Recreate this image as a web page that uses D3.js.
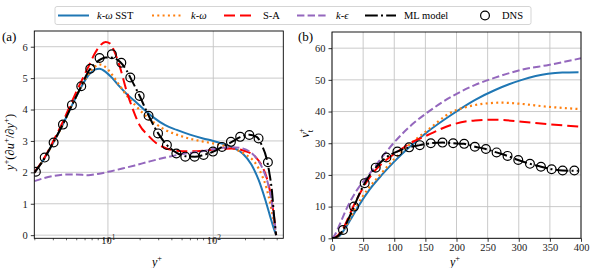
<!DOCTYPE html>
<html>
<head>
<meta charset="utf-8">
<script src="https://cdn.jsdelivr.net/npm/d3@7"></script>
<style>
body { margin: 0; background: #fff; }
svg { display: block; }
</style>
</head>
<body>
<div id="chart"></div>
<script>
// ---- panel (a): y+ (du+/dy+) against y+ (log axis) ----
const sstA = [[2.0,2.0],[2.5,2.45],[3,2.92],[3.7,3.5],[4.5,4.1],[5.5,4.68],[6.5,5.08],[7.5,5.27],[8.3,5.3],[9.5,5.2],[11,5.0],[13,4.72],[15,4.5],[18,4.27],[22,4.0],[27,3.75],[35,3.5],[45,3.35],[60,3.2],[80,3.08],[100,3.0],[125,2.9],[155,2.78],[190,2.6],[230,2.25],[270,1.75],[310,1.15],[345,0.62],[370,0.28],[395,0]];
const kwA = [[2.0,2.0],[2.5,2.45],[3,2.92],[3.7,3.5],[4.5,4.1],[5.5,4.7],[6.5,5.12],[7.5,5.36],[8.5,5.43],[9.5,5.35],[11,5.1],[13,4.75],[15,4.45],[18,4.15],[22,3.85],[27,3.6],[35,3.35],[45,3.2],[60,3.07],[80,2.98],[100,2.92],[125,2.85],[160,2.74],[200,2.58],[250,2.3],[290,1.9],[320,1.5],[350,0.95],[375,0.45],[395,0]];
const saA = [[2.0,2.0],[2.5,2.47],[3,2.97],[3.7,3.58],[4.5,4.22],[5.5,4.85],[6.5,5.35],[7.5,5.78],[8.5,6.05],[9.5,6.15],[10.5,6.1],[11.5,5.85],[13,5.35],[15,4.6],[17.5,3.95],[20,3.5],[24,3.18],[29,2.92],[36,2.76],[45,2.69],[60,2.67],[80,2.69],[110,2.74],[150,2.76],[200,2.68],[250,2.5],[290,2.2],[320,1.85],[350,1.3],[375,0.65],[395,0]];
const keA = [[2.0,1.72],[2.5,1.82],[3,1.88],[4,1.93],[5,1.93],[6.5,1.91],[8,1.95],[10.5,2.03],[14,2.13],[18,2.22],[25,2.35],[35,2.47],[50,2.58],[75,2.66],[110,2.76],[150,2.8],[190,2.76],[230,2.62],[270,2.35],[300,2.05],[330,1.65],[355,1.15],[375,0.6],[395,0]];
const mlA = [[2.0,1.98],[2.5,2.45],[3,2.93],[3.7,3.5],[4.5,4.1],[5.5,4.7],[6.5,5.2],[7.5,5.45],[8.5,5.6],[9.5,5.66],[11,5.65],[13,5.52],[15,5.25],[17,4.9],[20,4.43],[24,3.85],[30,3.24],[36,2.88],[45,2.62],[55,2.51],[67,2.5],[80,2.55],[100,2.66],[120,2.8],[150,2.97],[180,3.12],[220,3.2],[260,3.12],[290,2.85],[320,2.45],[340,2.0],[360,1.42],[378,0.6],[395,0]];
const dnsAx = [2.07,2.51,3.05,3.74,4.55,5.58,6.79,8.33,10.9,13.4,16.3,20.0,24.3,29.9,36.3,44.6,54.2,66.5,80.9,99.3,121,147,180,220,269,330];
const dnsAy = [2.02,2.47,2.95,3.52,4.14,4.74,5.30,5.64,5.76,5.49,5.02,4.43,3.80,3.24,2.87,2.60,2.50,2.50,2.55,2.66,2.81,2.97,3.13,3.19,3.08,2.32];

// ---- panel (b): nu_t+ against y+ ----
const sstB = [[0,0],[10,0.5],[20,2.8],[30,6.0],[42,10],[60,15.3],[80,20],[100,24.2],[124,28.7],[154,33.7],[192,39],[230,43.7],[262,46.8],[305,50],[347,51.9],[370,52.3],[396,52.4]];
const kwB = [[0,0],[10,0.6],[20,3.2],[30,6.6],[39,10],[58,15.6],[77,20],[100,25],[124,29.5],[154,34.2],[192,39.8],[219,41.6],[245,42.5],[272,42.8],[305,42.4],[342,41.6],[396,40.8]];
const saB = [[0,0],[10,1.0],[20,3.9],[34,10],[50,16],[70,21.6],[87,24.7],[106,27.4],[124,29.8],[154,32.6],[192,35.8],[230,37.2],[262,37.4],[305,36.8],[348,36.0],[396,35.3]];
const keB = [[0,0],[5,1.2],[10,3.3],[25,10],[40,15.2],[59,20],[80,25.5],[101,30.5],[128,35.8],[154,39.8],[192,44.7],[230,48.4],[262,50.7],[305,53.2],[348,54.7],[400,56.8]];
const mlB = [[0,0],[5,0.15],[10,0.8],[17.7,2.6],[25,5.5],[35.4,10],[45,14.5],[52.5,17.4],[60,19.8],[70,22.3],[87,25.5],[105,27.4],[124,28.7],[141,29.4],[159,30],[178,30.2],[195,30],[212,29.8],[230,28.9],[247,28.2],[264,27.1],[282,26],[299,24.7],[318,23.5],[336,22.6],[353,21.8],[370,21.4],[395,21.3]];
const dnsBx = [17.7,35.4,52.5,70.2,87.4,105.1,123.9,141,158.7,177.5,194.6,212.3,229.5,247.2,264.4,282,299.2,318,335.7,352.8,370.5,389.3];
const dnsBy = [2.6,10.0,17.4,22.3,25.5,27.4,28.7,29.4,30.0,30.2,30.0,29.8,28.9,28.2,27.1,26.0,24.7,23.5,22.6,21.8,21.4,21.4];

// ticks
const yTicksA = [0,1,2,3,4,5,6];
const xMajorA = [10,100];
const xMinorA = [2,3,4,5,6,7,8,9,20,30,40,50,60,70,80,90,200,300,400];
const xTicksB = [0,50,100,150,200,250,300,350,400];
const yTicksB = [0,10,20,30,40,50,60];

// legend / series styles
const models = [
    { name: [["k","i"],["-"],["ω","i"],[" SST"]], color: "#1f77b4", dash: null, w: 2 },
    { name: [["k","i"],["-"],["ω","i"]], color: "#ff7f0e", dash: "2,3.3", w: 2.2 },
    { name: [["S-A"]], color: "#ff0000", dash: "11,5", w: 2 },
    { name: [["k","i"],["-"],["ϵ","i"]], color: "#9467bd", dash: "7.4,3.2", w: 2 },
    { name: [["ML model"]], color: "#000000", dash: "12.8,3.2,2,3.2", w: 2 }
];
const legendX = [58, 152, 224, 297, 365, 470];

const FONT = "'Liberation Serif', 'DejaVu Serif', serif";
const W = 598, H = 268;
const svg = d3.select("#chart").append("svg")
    .attr("width", W).attr("height", H)
    .attr("font-family", FONT);

// writes text made of parts: [str, "i" | "sup" | "sub" | undefined, dx]
function MathText(sel, parts, size)
{
    let shift = 0;
    sel.attr("font-size", size).attr("font-family", FONT);
    for (const p of parts)
    {
        const t = sel.append("tspan").text(p[0]);
        let target = 0;
        if (p[1] == "sup") target = -0.38 * size;
        if (p[1] == "sub") target = 0.28 * size;
        t.attr("dy", target - shift);
        shift = target;
        t.attr("font-size", (p[1] == "sup" || p[1] == "sub") ? size * 0.7 : size);
        if (p[1] == "i") t.attr("font-style", "italic");
        if (p[2] != undefined) t.attr("dx", p[2]);
    }
    return sel;
}

function Panel(cfg)
{
    const g = svg.append("g");
    const x = cfg.x, y = cfg.y;
    const [x0, x1] = x.range(), [y0, y1] = y.range();

    const clipId = "clip" + cfg.id;
    svg.append("clipPath").attr("id", clipId)
        .append("rect").attr("x", x0).attr("y", y1).attr("width", x1 - x0).attr("height", y0 - y1);

    // grid
    g.append("g").selectAll("line").data(cfg.xGrid).join("line")
        .attr("x1", d => x(d)).attr("x2", d => x(d)).attr("y1", y0).attr("y2", y1)
        .attr("stroke", "#c4c4c4").attr("stroke-width", 0.9);
    g.append("g").selectAll("line").data(cfg.yGrid).join("line")
        .attr("x1", x0).attr("x2", x1).attr("y1", d => y(d)).attr("y2", d => y(d))
        .attr("stroke", "#c4c4c4").attr("stroke-width", 0.9);

    // curves
    const plot = g.append("g").attr("clip-path", `url(#${clipId})`);
    const line = d3.line().x(d => x(d[0])).y(d => y(d[1])).curve(d3.curveMonotoneX);
    cfg.series.forEach((s, i) => {
        plot.append("path").datum(s)
            .attr("d", line)
            .attr("fill", "none")
            .attr("stroke", models[i].color)
            .attr("stroke-width", models[i].w)
            .attr("stroke-dasharray", models[i].dash);
    });

    plot.append("g").selectAll("circle").data(cfg.dnsX).join("circle")
        .attr("cx", d => x(d)).attr("cy", (d, i) => y(cfg.dnsY[i]))
        .attr("r", 4.4).attr("fill", "none").attr("stroke", "#000").attr("stroke-width", 1.2);

    // frame
    g.append("rect").attr("x", x0).attr("y", y1).attr("width", x1 - x0).attr("height", y0 - y1)
        .attr("fill", "none").attr("stroke", "#000").attr("stroke-width", 0.9);

    // axes
    const ya = g.append("g").attr("transform", `translate(${x0},0)`)
        .call(d3.axisLeft(y).tickValues(cfg.yTicks).tickSize(3.5).tickPadding(3).tickFormat(d3.format("d")));
    const xa = g.append("g").attr("transform", `translate(0,${y0})`)
        .call(d3.axisBottom(x).tickValues(cfg.xTicks).tickSize(3.5).tickPadding(2).tickFormat(d3.format("d")));
    for (const a of [ya, xa])
    {
        a.attr("font-family", null).attr("font-size", null);
        a.select(".domain").remove();
        a.selectAll("text").attr("font-family", FONT).attr("font-size", 10.5).attr("fill", "#222");
        a.selectAll("line").attr("stroke-width", 0.8);
    }
    if (cfg.xMinor)
    {
        const m = g.append("g").attr("transform", `translate(0,${y0})`)
            .call(d3.axisBottom(x).tickValues(cfg.xMinor).tickSize(2).tickFormat(""));
        m.select(".domain").remove();
        m.selectAll("line").attr("stroke-width", 0.6);
    }
    if (cfg.sup)
    {
        xa.selectAll(".tick text").each(function(d) {
            const t = d3.select(this).text("");
            MathText(t, [["10"], [String(Math.round(Math.log10(d))), "sup"]], 10.5);
        });
    }
    return g;
}

const xA = d3.scaleLog().domain([2, 462]).range([34.3, 283.3]);
const yA = d3.scaleLinear().domain([-0.1, 6.5]).range([238.3, 31]);
Panel({ id: "a", x: xA, y: yA, series: [sstA, kwA, saA, keA, mlA], dnsX: dnsAx, dnsY: dnsAy,
    xGrid: xMajorA, yGrid: yTicksA, yTicks: yTicksA, xTicks: xMajorA, xMinor: xMinorA, sup: true });

const xB = d3.scaleLinear().domain([0, 400]).range([332, 581]);
const yB = d3.scaleLinear().domain([0, 65.1]).range([238.3, 32]);
Panel({ id: "b", x: xB, y: yB, series: [sstB, kwB, saB, keB, mlB], dnsX: dnsBx, dnsY: dnsBy,
    xGrid: xTicksB, yGrid: yTicksB, yTicks: yTicksB, xTicks: xTicksB });

// panel letters and axis labels
svg.append("text").attr("x", 2).attr("y", 41).attr("font-size", 13).text("(a)");
svg.append("text").attr("x", 298).attr("y", 41).attr("font-size", 13).text("(b)");

MathText(svg.append("text").attr("x", 157).attr("y", 266).attr("text-anchor", "middle"),
    [["y","i"],["+","sup"]], 12);
MathText(svg.append("text").attr("x", 455).attr("y", 266).attr("text-anchor", "middle"),
    [["y","i"],["+","sup"]], 12);

MathText(svg.append("text").attr("transform", "translate(14,142) rotate(-90)").attr("text-anchor", "middle"),
    [["y","i"],["+","sup"],["(∂"],["u","i"],["+","sup"],["/∂"],["y","i"],["+","sup"],[")"]], 12.5);
MathText(svg.append("text").attr("transform", "translate(309,133) rotate(-90)").attr("text-anchor", "middle"),
    [["ν","i"],["t","sub"],["+","sup",-3.5]], 12.5);

// legend
const lg = svg.append("g");
lg.append("rect").attr("x", 55).attr("y", 6.5).attr("width", 476).attr("height", 18).attr("rx", 2)
    .attr("fill", "#fff").attr("stroke", "#d0d0d0").attr("stroke-width", 0.9);
const ly = 15.5;
const entries = models.concat([{ name: [["DNS"]], dns: true }]);
entries.forEach((e, i) => {
    const lx = legendX[i];
    if (e.dns)
    {
        lg.append("circle").attr("cx", lx + 15).attr("cy", ly).attr("r", 4.4)
            .attr("fill", "none").attr("stroke", "#000").attr("stroke-width", 1.2);
    }
    else
    {
        lg.append("line").attr("x1", lx).attr("x2", lx + 31).attr("y1", ly).attr("y2", ly)
            .attr("stroke", e.color).attr("stroke-width", e.w).attr("stroke-dasharray", e.dash);
    }
    const t = lg.append("text").attr("x", lx + (e.dns ? 32 : 39)).attr("y", ly + 3.5);
    MathText(t, e.name, 10.5);
});
</script>
</body>
</html>
